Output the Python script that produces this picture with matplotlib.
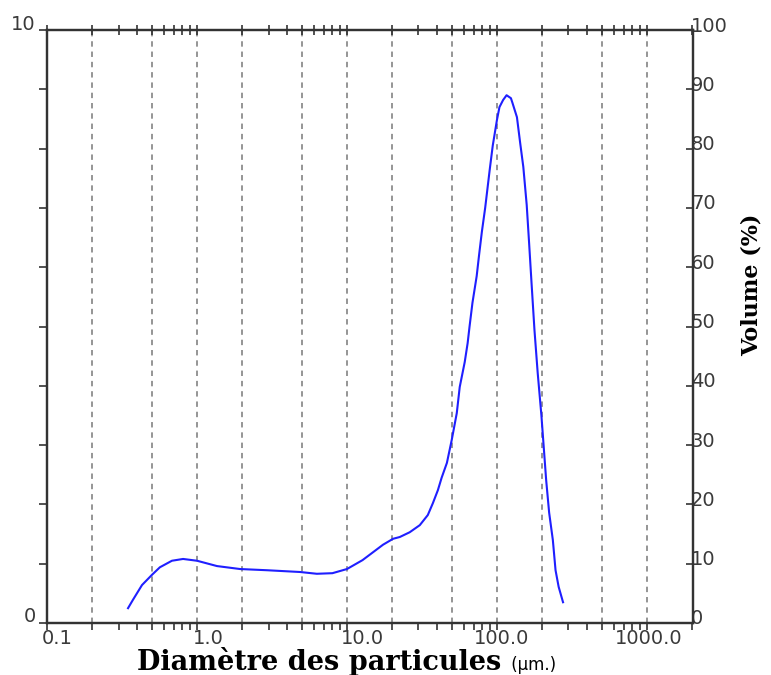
import matplotlib
matplotlib.use("Agg")
import matplotlib.pyplot as plt
import matplotlib.transforms as mtransforms
from matplotlib.ticker import LogLocator, NullFormatter, FixedLocator

# ---- data ----
diameter_um = [0.347, 0.374, 0.43, 0.5, 0.566, 0.681, 0.808, 1.0, 1.36, 1.94,
               2.92, 4.87, 6.3, 8.0, 10.0, 12.7, 17.4, 20.3, 22.5, 26.2,
               30.6, 34.6, 37.4, 40.4, 42.8, 46.4, 50.0, 54.0, 56.5, 61.0,
               63.8, 65.7, 68.7, 73.3, 76.0, 79.4, 83.5, 89.6, 93.8,
               100.0, 104.0, 110.0, 116.0, 124.0, 127.0, 136.0, 143.0, 150.0, 158.0,
               164.0, 170.0, 178.0, 187.0, 198.0, 213.0, 223.0, 236.0, 246.0, 258.0,
               276.0]
volume = [0.25, 0.39, 0.64, 0.81, 0.94, 1.05, 1.08, 1.05, 0.96, 0.91,
          0.89, 0.86, 0.83, 0.84, 0.91, 1.06, 1.32, 1.42, 1.45, 1.53,
          1.65, 1.82, 2.02, 2.24, 2.45, 2.70, 3.09, 3.54, 3.98, 4.40,
          4.72, 5.00, 5.40, 5.85, 6.20, 6.60, 7.00, 7.65, 8.05,
          8.48, 8.70, 8.82, 8.90, 8.85, 8.77, 8.53, 8.09, 7.69, 7.05,
          6.40, 5.75, 4.94, 4.22, 3.50, 2.41, 1.86, 1.40, 0.89, 0.61,
          0.35]
grid_positions = [0.2, 0.5, 1, 2, 5, 10, 20, 50, 100, 200, 500, 1000]
x_tick_values = [0.1, 1, 10, 100, 1000]
x_tick_labels = ["0.1", "1.0", "10.0", "100.0", "1000.0"]
left_ticks = list(range(0, 11))
left_labels = ["0"] + [""] * 9 + ["10"]
right_ticks = list(range(0, 101, 10))
right_labels = [str(v) for v in right_ticks]
xlabel_main = "Diamètre des particules"
xlabel_unit = " (µm.)"
ylabel_right = "Volume (%)"

# ---- figure ----
W, H = 771, 675
fig = plt.figure(figsize=(W / 100, H / 100), dpi=100)
fig.patch.set_facecolor("white")
ax = fig.add_axes([47 / W, 52 / H, 646 / W, 593 / H])

spine_col = "#333333"
label_col = "#3a3a3a"

for x in grid_positions:
    ax.axvline(x, color="#8c8c8c", lw=1.3, dashes=(3, 2.7), zorder=1)

ax.plot(diameter_um, volume, color="#1f1fff", lw=1.5, zorder=3)

ax.set_xscale("log")
ax.set_xlim(0.1, 2030)
ax.set_ylim(0, 10)

for s in ax.spines.values():
    s.set_color(spine_col)
    s.set_linewidth(1.6)

# x ticks
ax.xaxis.set_major_locator(FixedLocator(x_tick_values))
ax.set_xticklabels(x_tick_labels)
ax.xaxis.set_minor_locator(LogLocator(base=10, subs=range(2, 10), numticks=20))
ax.xaxis.set_minor_formatter(NullFormatter())
ax.tick_params(axis="x", which="both", direction="out", length=5, width=1.2,
               color=spine_col, top=True, pad=0, labelsize=14, labelcolor=label_col)
for t in ax.xaxis.get_major_ticks() + ax.xaxis.get_minor_ticks():
    t.tick2line.set_marker("|")
    t.tick2line.set_markersize(7)

x_offsets = [10, 11, 15, 5, 2]
for lab, dx in zip(ax.get_xticklabels(), x_offsets):
    lab.set_transform(lab.get_transform() +
                      mtransforms.ScaledTranslation(dx / 100, 1 / 100, fig.dpi_scale_trans))

# left y ticks
ax.set_yticks(left_ticks)
ax.set_yticklabels(left_labels)
ax.tick_params(axis="y", which="major", direction="out", length=6, width=1.2,
               color=spine_col, pad=2, labelsize=14, labelcolor=label_col)
for lab in ax.get_yticklabels():
    lab.set_transform(lab.get_transform() +
                      mtransforms.ScaledTranslation(0, 8 / 100, fig.dpi_scale_trans))

# right axis
ax2 = ax.twinx()
ax2.set_ylim(0, 100)
ax2.set_yticks(right_ticks)
ax2.set_yticklabels(right_labels)
ax2.tick_params(axis="y", direction="in", length=5, width=1.2, color=spine_col,
                pad=0, labelsize=14, labelcolor=label_col)
for s in ax2.spines.values():
    s.set_color(spine_col)
    s.set_linewidth(1.6)
for lab in ax2.get_yticklabels():
    lab.set_transform(lab.get_transform() +
                      mtransforms.ScaledTranslation(-2 / 100, 6 / 100, fig.dpi_scale_trans))

# labels
t1 = fig.text(137 / W, 1 - 670 / H, xlabel_main, family="DejaVu Serif",
              weight="bold", fontsize=19.5, color="black", ha="left", va="baseline")
fig.canvas.draw()
bb = t1.get_window_extent()
fig.text(bb.x1 / W + 5 / W, 1 - 670 / H, xlabel_unit, family="DejaVu Sans",
         fontsize=12, color="black", ha="left", va="baseline")

fig.text(752 / W, 1 - 285 / H, ylabel_right, family="DejaVu Serif",
         weight="bold", fontsize=16, color="black", rotation=90,
         ha="center", va="center")

fig.savefig("out.png", dpi=100, facecolor="white")
